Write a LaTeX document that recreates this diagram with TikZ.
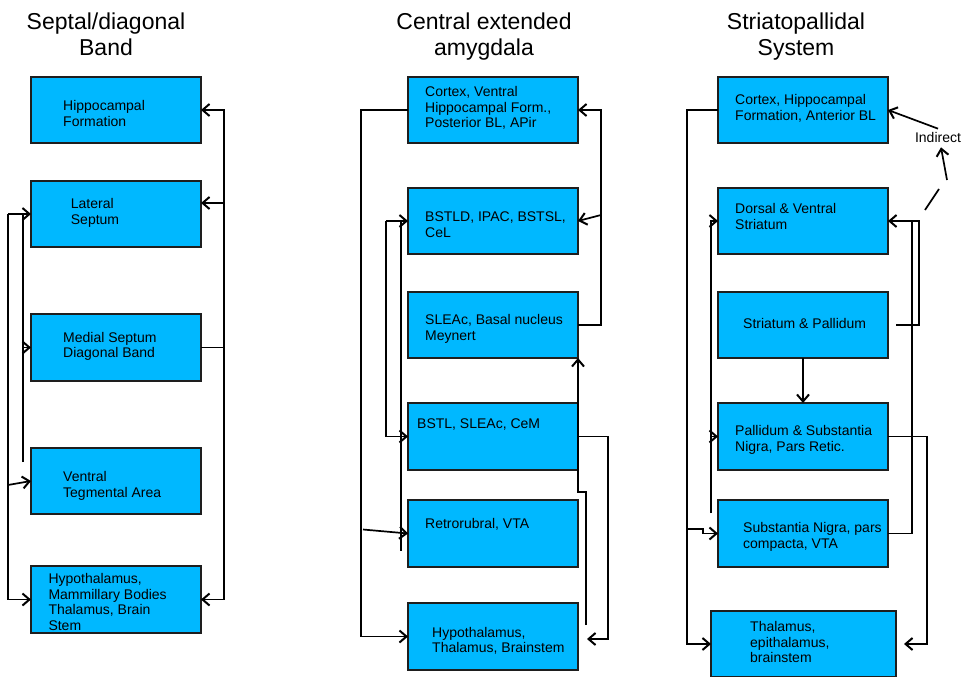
\documentclass[tikz,border=0pt]{standalone}
\usepackage{fontspec}
\setmainfont{Liberation Sans}
\usetikzlibrary{arrows.meta,calc}
\definecolor{boxblue}{RGB}{0,184,255}
\definecolor{edgec}{RGB}{30,30,30}
\begin{document}
\begin{tikzpicture}[x=1pt,y=-1pt,
 box/.style={draw=edgec, fill=boxblue, line width=1.8pt, minimum width=170pt, minimum height=66pt, inner sep=0pt, outer sep=0pt},
 lbl/.style={anchor=north west, inner sep=0pt, align=left, font=\fontsize{14}{15.7}\selectfont, text=black},
 ttl/.style={anchor=north, inner sep=0pt, align=center, font=\fontsize{23}{26}\selectfont},
 conn/.style={line width=1.7pt, draw=black},
 arr/.style={conn, -{Straight Barb[length=7pt,width=12pt,line width=2pt]}},
]
\fill[white] (0,0) rectangle (967,677);
\useasboundingbox (0,0) rectangle (967,677);

% titles
\node[ttl] (t1) at (106,12.5) {Septal/diagonal\\Band};
\node[ttl] (t2) at (484,12.5) {Central extended\\amygdala};
\node[ttl] (t3) at (796,12.5) {Striatopallidal\\System};

% column 1
\node[box] (a1) at (116,110) {};
\node[box] (a2) at (116,214) {};
\node[box,minimum height=67pt] (a3) at (116,347.5) {};
\node[box] (a4) at (116,481) {};
\node[box,minimum height=67pt] (a5) at (116,599.5) {};
\node[lbl] (ta1) at (63,100) {Hippocampal\\Formation};
\node[lbl] (ta2) at (70.7,198) {Lateral\\Septum};
\node[lbl] (ta3) at (63,331.7) {Medial Septum\\Diagonal Band};
\node[lbl] (ta4) at (63,471) {Ventral\\Tegmental Area};
\node[lbl] (ta5) at (48.3,573) {Hypothalamus,\\Mammillary Bodies\\Thalamus, Brain\\Stem};

\coordinate (r1) at (224,0);
\coordinate (l1) at (8,0);
\coordinate (l2) at (23,0);
\draw[arr] (a3.east) -| (r1 |- a1.east) -- (a1.east);
\draw[arr] (a3.east) -| (r1 |- a5.east) -- (a5.east);
\draw[arr] ([yshift=11pt]r1 |- a2.east) -- ([yshift=11pt]a2.east);
\draw[arr] (a2.west -| l1) -- (l1 |- a5.west) -- (a5.west);
\draw[arr] (a2.west -| l1) -- (a2.west);
\draw[arr] ([yshift=-4pt]l1 |- a4.west) -- (a4.west);
\draw[conn] ([yshift=19pt]l2 |- a4.west) -- (l2 |- a2.west);
\draw[arr] (l2 |- a3.west) -- (a3.west);

% column 2
\node[box] (b1) at (493,110) {};
\node[box] (b2) at (493,221) {};
\node[box] (b3) at (493,325) {};
\node[box,minimum height=67pt] (b4) at (493,436.5) {};
\node[box,minimum height=67pt] (b5) at (493,533.5) {};
\node[box,minimum height=67pt] (b6) at (493,636.5) {};
\node[lbl] (tb1) at (425,86) {Cortex, Ventral\\Hippocampal Form.,\\Posterior BL, APir};
\node[lbl] (tb2) at (425,211.7) {BSTLD, IPAC, BSTSL,\\CeL};
\node[lbl] (tb3) at (425,314) {SLEAc, Basal nucleus\\Meynert};
\node[lbl] (tb4) at (417,419) {BSTL, SLEAc, CeM};
\node[lbl] (tb5) at (425,517.7) {Retrorubral, VTA};
\node[lbl] (tb6) at (432,626.7) {Hypothalamus,\\Thalamus, Brainstem};

\coordinate (m1) at (361,0);
\coordinate (m2) at (386,0);
\coordinate (m3) at (401,0);
\coordinate (n1) at (601,0);
\coordinate (n2) at (608,0);
\draw[arr] (b1.west) -| (m1 |- b6.west) -- (b6.west);
\draw[arr] (b3.east) -| (n1 |- b1.east) -- (b1.east);
\draw[arr] ([yshift=6pt]n1 |- b2.east) -- (b2.east);
\draw[arr] (b2.west -| m2) -- (b2.west);
\draw[arr] (b2.west -| m2) -- (m2 |- b4.west) -- (b4.west);
\draw[conn] (b2.west -| m3) -- ([yshift=-17.5pt]m3 |- b5.west);
\draw[arr] ([xshift=2pt,yshift=4pt]m1 |- b5.west) -- (b5.west);
\draw[arr] (b4.east) -| ([yshift=-2.5pt]n2 |- b6.east) -- ([xshift=9pt,yshift=-2.5pt]b6.east);
\draw[arr] ([xshift=8pt,yshift=11.5pt]b6.east) -- ([xshift=8pt,yshift=-22pt]b4.south east) -- ([yshift=-22pt]b4.south east) -- (b3.south east);

% column 3
\node[box] (c1) at (803,110) {};
\node[box] (c2) at (803,221) {};
\node[box] (c3) at (803,325) {};
\node[box,minimum height=67pt] (c4) at (803,436.5) {};
\node[box,minimum height=67pt] (c5) at (803,533.5) {};
\node[box,minimum width=185pt] (c6) at (803.5,644) {};
\node[lbl] (tc1) at (735,94.3) {Cortex, Hippocampal\\Formation, Anterior BL};
\node[lbl] (tc2) at (735,203.3) {Dorsal \& Ventral\\Striatum};
\node[lbl] (tc3) at (743,318) {Striatum \& Pallidum};
\node[lbl] (tc4) at (735,425) {Pallidum \& Substantia\\Nigra, Pars Retic.};
\node[lbl] (tc5) at (743,522.3) {Substantia Nigra, pars\\compacta, VTA};
\node[lbl] (tc6) at (750,621) {Thalamus,\\epithalamus,\\brainstem};
\node[inner sep=0pt, font=\fontsize{14}{16}\selectfont] (ind) at (938,137) {Indirect};

\coordinate (p1) at (687,0);
\coordinate (p2) at (711,0);
\coordinate (p3) at (703,0);
\coordinate (q1) at (912,0);
\coordinate (q2) at (919,0);
\coordinate (q3) at (927,0);
\draw[arr] (c1.west) -| (p1 |- c6.west) -- (c6.west);
\draw[arr] ([yshift=4.5pt]p1 |- c5.west) -- ([yshift=4.5pt]p3 |- c5.west) -- (p3 |- c5.west) -- (c5.west);
\draw[arr] ([yshift=-13pt]p2 |- c5.north) -- (p2 |- c2.west) -- (c2.west);
\draw[arr] (p2 |- c4.west) -- (c4.west);
\draw[arr] ([xshift=8pt]c3.east) -| (q2 |- c2.east) -- (c2.east);
\draw[conn] (c5.east) -| (q1 |- c2.east);
\draw[arr] (c3.south) -- (c4.north);
\draw[arr] (c4.east) -| (q3 |- c6.east) -- ([xshift=8pt]c6.east);
\draw[arr] ([yshift=3pt]ind.north) -- (c1.east);
\coordinate (i1) at (947,180);
\draw[arr] (i1) -- ([xshift=3pt,yshift=-5pt]ind.south);
\coordinate (i2) at (925,210);
\coordinate (i3) at (939,189);
\draw[conn] (i2) -- (i3);
\end{tikzpicture}
\end{document}
